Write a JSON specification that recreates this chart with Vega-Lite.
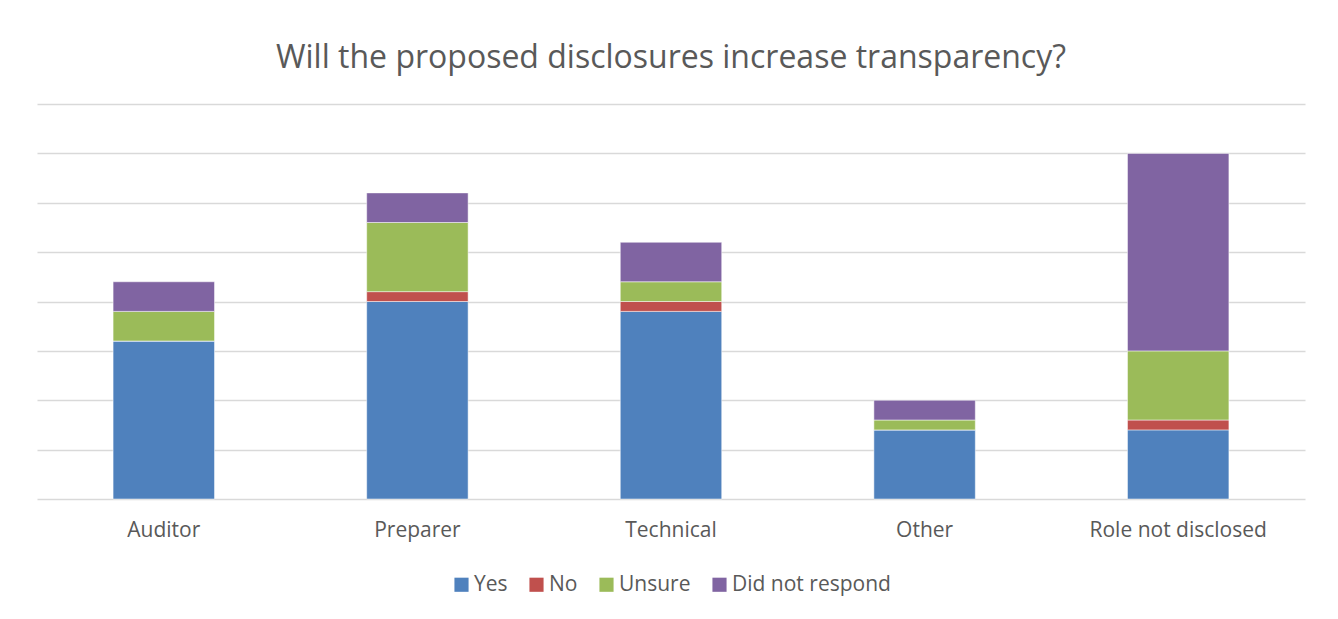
{
  "$schema": "https://vega.github.io/schema/vega-lite/v6.json",
  "width": 1268,
  "height": 395,
  "autosize": {"type": "none"},
  "padding": {"left": 37, "top": 104, "right": 33, "bottom": 120},
  "background": "#ffffff",
  "title": {
    "text": "Will the proposed disclosures increase transparency?",
    "font": "Open Sans",
    "fontSize": 32,
    "fontWeight": "normal",
    "color": "#595959",
    "anchor": "middle",
    "offset": 29
  },
  "data": {
    "values": [
      {"role": "Auditor", "response": "Yes", "ord": 1, "count": 16},
      {"role": "Auditor", "response": "No", "ord": 2, "count": 0},
      {"role": "Auditor", "response": "Unsure", "ord": 3, "count": 3},
      {"role": "Auditor", "response": "Did not respond", "ord": 4, "count": 3},
      {"role": "Preparer", "response": "Yes", "ord": 1, "count": 20},
      {"role": "Preparer", "response": "No", "ord": 2, "count": 1},
      {"role": "Preparer", "response": "Unsure", "ord": 3, "count": 7},
      {"role": "Preparer", "response": "Did not respond", "ord": 4, "count": 3},
      {"role": "Technical", "response": "Yes", "ord": 1, "count": 19},
      {"role": "Technical", "response": "No", "ord": 2, "count": 1},
      {"role": "Technical", "response": "Unsure", "ord": 3, "count": 2},
      {"role": "Technical", "response": "Did not respond", "ord": 4, "count": 4},
      {"role": "Other", "response": "Yes", "ord": 1, "count": 7},
      {"role": "Other", "response": "No", "ord": 2, "count": 0},
      {"role": "Other", "response": "Unsure", "ord": 3, "count": 1},
      {"role": "Other", "response": "Did not respond", "ord": 4, "count": 2},
      {"role": "Role not disclosed", "response": "Yes", "ord": 1, "count": 7},
      {"role": "Role not disclosed", "response": "No", "ord": 2, "count": 1},
      {"role": "Role not disclosed", "response": "Unsure", "ord": 3, "count": 7},
      {"role": "Role not disclosed", "response": "Did not respond", "ord": 4, "count": 20}
    ]
  },
  "mark": {"type": "bar", "stroke": "#ffffff", "strokeWidth": 0.5},
  "encoding": {
    "x": {
      "field": "role",
      "type": "nominal",
      "sort": ["Auditor", "Preparer", "Technical", "Other", "Role not disclosed"],
      "scale": {"paddingInner": 0.6, "paddingOuter": 0.3},
      "axis": {
        "title": null,
        "labelAngle": 0,
        "labelFont": "Open Sans",
        "labelFontSize": 21,
        "labelColor": "#595959",
        "labelPadding": 20,
        "ticks": false,
        "domain": false,
        "grid": false
      }
    },
    "y": {
      "field": "count",
      "type": "quantitative",
      "stack": "zero",
      "scale": {"domain": [0, 40], "nice": false},
      "axis": {
        "title": null,
        "labels": false,
        "ticks": false,
        "domain": false,
        "grid": true,
        "values": [0, 5, 10, 15, 20, 25, 30, 35, 40],
        "gridColor": "#d9d9d9",
        "gridWidth": 1.3
      }
    },
    "color": {
      "field": "response",
      "type": "nominal",
      "sort": ["Yes", "No", "Unsure", "Did not respond"],
      "scale": {
        "domain": ["Yes", "No", "Unsure", "Did not respond"],
        "range": ["#4F81BD", "#C0504D", "#9BBB59", "#8064A2"]
      },
      "legend": {
        "title": null,
        "orient": "bottom",
        "direction": "horizontal",
        "symbolType": "square",
        "symbolSize": 200,
        "symbolStrokeWidth": 0,
        "labelFont": "Open Sans",
        "labelFontSize": 21,
        "labelColor": "#595959",
        "labelOffset": 2,
        "columnPadding": 18,
        "offset": 34
      }
    },
    "order": {"field": "ord", "type": "quantitative", "sort": "ascending"}
  },
  "config": {
    "view": {"stroke": null},
    "legend": {"layout": {"bottom": {"anchor": "middle"}}}
  }
}
